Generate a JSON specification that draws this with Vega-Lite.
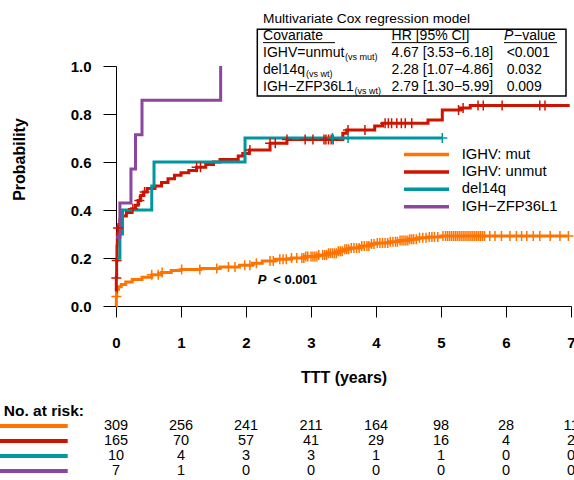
{
  "$schema": "https://vega.github.io/schema/vega-lite/v6.json",
  "width": 455,
  "height": 240,
  "autosize": {"type": "none"},
  "padding": {"left": 116, "top": 66, "right": 3, "bottom": 174},
  "background": "white",
  "config": {"font": "Liberation Sans", "view": {"stroke": null}},
  "datasets": {
    "curves": [
      {"group": "IGHV: mut", "t": 0, "p": 0},
      {"group": "IGHV: mut", "t": 0.005, "p": 0.04},
      {"group": "IGHV: mut", "t": 0.01, "p": 0.07},
      {"group": "IGHV: mut", "t": 0.04, "p": 0.08},
      {"group": "IGHV: mut", "t": 0.08, "p": 0.09},
      {"group": "IGHV: mut", "t": 0.15, "p": 0.1},
      {"group": "IGHV: mut", "t": 0.25, "p": 0.11},
      {"group": "IGHV: mut", "t": 0.4, "p": 0.12},
      {"group": "IGHV: mut", "t": 0.55, "p": 0.13},
      {"group": "IGHV: mut", "t": 0.7, "p": 0.14},
      {"group": "IGHV: mut", "t": 0.85, "p": 0.148},
      {"group": "IGHV: mut", "t": 1.0, "p": 0.152},
      {"group": "IGHV: mut", "t": 1.3, "p": 0.156},
      {"group": "IGHV: mut", "t": 1.6, "p": 0.163},
      {"group": "IGHV: mut", "t": 1.9, "p": 0.17},
      {"group": "IGHV: mut", "t": 2.1, "p": 0.178},
      {"group": "IGHV: mut", "t": 2.25, "p": 0.188},
      {"group": "IGHV: mut", "t": 2.45, "p": 0.195},
      {"group": "IGHV: mut", "t": 2.7, "p": 0.2},
      {"group": "IGHV: mut", "t": 2.9, "p": 0.206},
      {"group": "IGHV: mut", "t": 3.1, "p": 0.212},
      {"group": "IGHV: mut", "t": 3.25, "p": 0.22},
      {"group": "IGHV: mut", "t": 3.4, "p": 0.228},
      {"group": "IGHV: mut", "t": 3.5, "p": 0.236},
      {"group": "IGHV: mut", "t": 3.6, "p": 0.242},
      {"group": "IGHV: mut", "t": 3.75, "p": 0.25},
      {"group": "IGHV: mut", "t": 3.9, "p": 0.258},
      {"group": "IGHV: mut", "t": 4.0, "p": 0.263},
      {"group": "IGHV: mut", "t": 4.2, "p": 0.268},
      {"group": "IGHV: mut", "t": 4.35, "p": 0.273},
      {"group": "IGHV: mut", "t": 4.5, "p": 0.278},
      {"group": "IGHV: mut", "t": 4.65, "p": 0.284},
      {"group": "IGHV: mut", "t": 4.8, "p": 0.288},
      {"group": "IGHV: mut", "t": 5.0, "p": 0.292},
      {"group": "IGHV: mut", "t": 6.95, "p": 0.292},
      {"group": "IGHV: unmut", "t": 0, "p": 0.06},
      {"group": "IGHV: unmut", "t": 0.005, "p": 0.12},
      {"group": "IGHV: unmut", "t": 0.01, "p": 0.19},
      {"group": "IGHV: unmut", "t": 0.015, "p": 0.25},
      {"group": "IGHV: unmut", "t": 0.02, "p": 0.3},
      {"group": "IGHV: unmut", "t": 0.03, "p": 0.33},
      {"group": "IGHV: unmut", "t": 0.06, "p": 0.36},
      {"group": "IGHV: unmut", "t": 0.1, "p": 0.375},
      {"group": "IGHV: unmut", "t": 0.16, "p": 0.39},
      {"group": "IGHV: unmut", "t": 0.24, "p": 0.405},
      {"group": "IGHV: unmut", "t": 0.3, "p": 0.42},
      {"group": "IGHV: unmut", "t": 0.34, "p": 0.44},
      {"group": "IGHV: unmut", "t": 0.38, "p": 0.46},
      {"group": "IGHV: unmut", "t": 0.42, "p": 0.475},
      {"group": "IGHV: unmut", "t": 0.48, "p": 0.49},
      {"group": "IGHV: unmut", "t": 0.6, "p": 0.5},
      {"group": "IGHV: unmut", "t": 0.7, "p": 0.515},
      {"group": "IGHV: unmut", "t": 0.8, "p": 0.53},
      {"group": "IGHV: unmut", "t": 0.9, "p": 0.545},
      {"group": "IGHV: unmut", "t": 1.0, "p": 0.555},
      {"group": "IGHV: unmut", "t": 1.12, "p": 0.565},
      {"group": "IGHV: unmut", "t": 1.24, "p": 0.578},
      {"group": "IGHV: unmut", "t": 1.38, "p": 0.59},
      {"group": "IGHV: unmut", "t": 1.5, "p": 0.6},
      {"group": "IGHV: unmut", "t": 1.6, "p": 0.61},
      {"group": "IGHV: unmut", "t": 1.88, "p": 0.625},
      {"group": "IGHV: unmut", "t": 1.95, "p": 0.635},
      {"group": "IGHV: unmut", "t": 2.05, "p": 0.65},
      {"group": "IGHV: unmut", "t": 2.37, "p": 0.678},
      {"group": "IGHV: unmut", "t": 2.63, "p": 0.694},
      {"group": "IGHV: unmut", "t": 3.49, "p": 0.72},
      {"group": "IGHV: unmut", "t": 3.55, "p": 0.733},
      {"group": "IGHV: unmut", "t": 3.98, "p": 0.75},
      {"group": "IGHV: unmut", "t": 4.1, "p": 0.761},
      {"group": "IGHV: unmut", "t": 4.8, "p": 0.775},
      {"group": "IGHV: unmut", "t": 5.02, "p": 0.817},
      {"group": "IGHV: unmut", "t": 5.3, "p": 0.825},
      {"group": "IGHV: unmut", "t": 5.45, "p": 0.835},
      {"group": "IGHV: unmut", "t": 6.98, "p": 0.835},
      {"group": "del14q", "t": 0, "p": 0.2},
      {"group": "del14q", "t": 0.06, "p": 0.3},
      {"group": "del14q", "t": 0.1, "p": 0.4},
      {"group": "del14q", "t": 0.55, "p": 0.5},
      {"group": "del14q", "t": 0.585, "p": 0.6},
      {"group": "del14q", "t": 1.985, "p": 0.7},
      {"group": "del14q", "t": 5.02, "p": 0.7},
      {"group": "IGH−ZFP36L1", "t": 0, "p": 0.286},
      {"group": "IGH−ZFP36L1", "t": 0.06, "p": 0.429},
      {"group": "IGH−ZFP36L1", "t": 0.23, "p": 0.571},
      {"group": "IGH−ZFP36L1", "t": 0.3, "p": 0.714},
      {"group": "IGH−ZFP36L1", "t": 0.4, "p": 0.857},
      {"group": "IGH−ZFP36L1", "t": 1.61, "p": 1.0}
    ],
    "censor": [
      {"group": "IGHV: mut", "t": 0.005, "p": 0.04},
      {"group": "IGHV: mut", "t": 0.55, "p": 0.13},
      {"group": "IGHV: mut", "t": 0.65, "p": 0.13},
      {"group": "IGHV: mut", "t": 0.71, "p": 0.14},
      {"group": "IGHV: mut", "t": 1.01, "p": 0.152},
      {"group": "IGHV: mut", "t": 1.29, "p": 0.152},
      {"group": "IGHV: mut", "t": 1.55, "p": 0.156},
      {"group": "IGHV: mut", "t": 1.73, "p": 0.163},
      {"group": "IGHV: mut", "t": 1.83, "p": 0.163},
      {"group": "IGHV: mut", "t": 1.98, "p": 0.17},
      {"group": "IGHV: mut", "t": 2.06, "p": 0.17},
      {"group": "IGHV: mut", "t": 2.16, "p": 0.178},
      {"group": "IGHV: mut", "t": 2.37, "p": 0.188},
      {"group": "IGHV: mut", "t": 2.42, "p": 0.188},
      {"group": "IGHV: mut", "t": 2.52, "p": 0.195},
      {"group": "IGHV: mut", "t": 2.57, "p": 0.195},
      {"group": "IGHV: mut", "t": 2.62, "p": 0.195},
      {"group": "IGHV: mut", "t": 2.7, "p": 0.2},
      {"group": "IGHV: mut", "t": 2.78, "p": 0.2},
      {"group": "IGHV: mut", "t": 2.86, "p": 0.2},
      {"group": "IGHV: mut", "t": 2.89, "p": 0.2},
      {"group": "IGHV: mut", "t": 2.92, "p": 0.206},
      {"group": "IGHV: mut", "t": 2.95, "p": 0.206},
      {"group": "IGHV: mut", "t": 3.0, "p": 0.206},
      {"group": "IGHV: mut", "t": 3.03, "p": 0.206},
      {"group": "IGHV: mut", "t": 3.06, "p": 0.206},
      {"group": "IGHV: mut", "t": 3.09, "p": 0.206},
      {"group": "IGHV: mut", "t": 3.12, "p": 0.212},
      {"group": "IGHV: mut", "t": 3.18, "p": 0.212},
      {"group": "IGHV: mut", "t": 3.21, "p": 0.212},
      {"group": "IGHV: mut", "t": 3.24, "p": 0.212},
      {"group": "IGHV: mut", "t": 3.27, "p": 0.22},
      {"group": "IGHV: mut", "t": 3.3, "p": 0.22},
      {"group": "IGHV: mut", "t": 3.33, "p": 0.22},
      {"group": "IGHV: mut", "t": 3.36, "p": 0.22},
      {"group": "IGHV: mut", "t": 3.39, "p": 0.22},
      {"group": "IGHV: mut", "t": 3.42, "p": 0.228},
      {"group": "IGHV: mut", "t": 3.45, "p": 0.228},
      {"group": "IGHV: mut", "t": 3.48, "p": 0.228},
      {"group": "IGHV: mut", "t": 3.52, "p": 0.236},
      {"group": "IGHV: mut", "t": 3.55, "p": 0.236},
      {"group": "IGHV: mut", "t": 3.58, "p": 0.236},
      {"group": "IGHV: mut", "t": 3.62, "p": 0.242},
      {"group": "IGHV: mut", "t": 3.66, "p": 0.242},
      {"group": "IGHV: mut", "t": 3.7, "p": 0.242},
      {"group": "IGHV: mut", "t": 3.74, "p": 0.242},
      {"group": "IGHV: mut", "t": 3.78, "p": 0.25},
      {"group": "IGHV: mut", "t": 3.82, "p": 0.25},
      {"group": "IGHV: mut", "t": 3.86, "p": 0.25},
      {"group": "IGHV: mut", "t": 3.89, "p": 0.25},
      {"group": "IGHV: mut", "t": 3.93, "p": 0.258},
      {"group": "IGHV: mut", "t": 3.97, "p": 0.258},
      {"group": "IGHV: mut", "t": 4.02, "p": 0.263},
      {"group": "IGHV: mut", "t": 4.06, "p": 0.263},
      {"group": "IGHV: mut", "t": 4.1, "p": 0.263},
      {"group": "IGHV: mut", "t": 4.14, "p": 0.263},
      {"group": "IGHV: mut", "t": 4.18, "p": 0.263},
      {"group": "IGHV: mut", "t": 4.22, "p": 0.268},
      {"group": "IGHV: mut", "t": 4.26, "p": 0.268},
      {"group": "IGHV: mut", "t": 4.3, "p": 0.268},
      {"group": "IGHV: mut", "t": 4.33, "p": 0.268},
      {"group": "IGHV: mut", "t": 4.37, "p": 0.273},
      {"group": "IGHV: mut", "t": 4.4, "p": 0.273},
      {"group": "IGHV: mut", "t": 4.43, "p": 0.273},
      {"group": "IGHV: mut", "t": 4.46, "p": 0.273},
      {"group": "IGHV: mut", "t": 4.49, "p": 0.273},
      {"group": "IGHV: mut", "t": 4.52, "p": 0.278},
      {"group": "IGHV: mut", "t": 4.55, "p": 0.278},
      {"group": "IGHV: mut", "t": 4.58, "p": 0.278},
      {"group": "IGHV: mut", "t": 4.62, "p": 0.278},
      {"group": "IGHV: mut", "t": 4.67, "p": 0.284},
      {"group": "IGHV: mut", "t": 4.72, "p": 0.284},
      {"group": "IGHV: mut", "t": 4.77, "p": 0.284},
      {"group": "IGHV: mut", "t": 4.82, "p": 0.288},
      {"group": "IGHV: mut", "t": 4.86, "p": 0.288},
      {"group": "IGHV: mut", "t": 4.9, "p": 0.288},
      {"group": "IGHV: mut", "t": 4.95, "p": 0.288},
      {"group": "IGHV: mut", "t": 5.03, "p": 0.292},
      {"group": "IGHV: mut", "t": 5.07, "p": 0.292},
      {"group": "IGHV: mut", "t": 5.1, "p": 0.292},
      {"group": "IGHV: mut", "t": 5.13, "p": 0.292},
      {"group": "IGHV: mut", "t": 5.16, "p": 0.292},
      {"group": "IGHV: mut", "t": 5.19, "p": 0.292},
      {"group": "IGHV: mut", "t": 5.22, "p": 0.292},
      {"group": "IGHV: mut", "t": 5.25, "p": 0.292},
      {"group": "IGHV: mut", "t": 5.28, "p": 0.292},
      {"group": "IGHV: mut", "t": 5.31, "p": 0.292},
      {"group": "IGHV: mut", "t": 5.34, "p": 0.292},
      {"group": "IGHV: mut", "t": 5.37, "p": 0.292},
      {"group": "IGHV: mut", "t": 5.4, "p": 0.292},
      {"group": "IGHV: mut", "t": 5.43, "p": 0.292},
      {"group": "IGHV: mut", "t": 5.46, "p": 0.292},
      {"group": "IGHV: mut", "t": 5.49, "p": 0.292},
      {"group": "IGHV: mut", "t": 5.52, "p": 0.292},
      {"group": "IGHV: mut", "t": 5.55, "p": 0.292},
      {"group": "IGHV: mut", "t": 5.58, "p": 0.292},
      {"group": "IGHV: mut", "t": 5.61, "p": 0.292},
      {"group": "IGHV: mut", "t": 5.64, "p": 0.292},
      {"group": "IGHV: mut", "t": 5.67, "p": 0.292},
      {"group": "IGHV: mut", "t": 5.75, "p": 0.292},
      {"group": "IGHV: mut", "t": 5.83, "p": 0.292},
      {"group": "IGHV: mut", "t": 5.93, "p": 0.292},
      {"group": "IGHV: mut", "t": 6.06, "p": 0.292},
      {"group": "IGHV: mut", "t": 6.16, "p": 0.292},
      {"group": "IGHV: mut", "t": 6.24, "p": 0.292},
      {"group": "IGHV: mut", "t": 6.32, "p": 0.292},
      {"group": "IGHV: mut", "t": 6.42, "p": 0.292},
      {"group": "IGHV: mut", "t": 6.52, "p": 0.292},
      {"group": "IGHV: mut", "t": 6.68, "p": 0.292},
      {"group": "IGHV: mut", "t": 6.83, "p": 0.292},
      {"group": "IGHV: mut", "t": 6.96, "p": 0.292},
      {"group": "IGHV: unmut", "t": 0.005, "p": 0.117},
      {"group": "IGHV: unmut", "t": 0.01, "p": 0.19},
      {"group": "IGHV: unmut", "t": 0.03, "p": 0.325},
      {"group": "IGHV: unmut", "t": 0.26, "p": 0.405},
      {"group": "IGHV: unmut", "t": 0.36, "p": 0.44},
      {"group": "IGHV: unmut", "t": 0.44, "p": 0.475},
      {"group": "IGHV: unmut", "t": 1.24, "p": 0.578},
      {"group": "IGHV: unmut", "t": 1.3, "p": 0.578},
      {"group": "IGHV: unmut", "t": 2.06, "p": 0.65},
      {"group": "IGHV: unmut", "t": 2.37, "p": 0.678},
      {"group": "IGHV: unmut", "t": 2.45, "p": 0.678},
      {"group": "IGHV: unmut", "t": 2.63, "p": 0.694},
      {"group": "IGHV: unmut", "t": 2.91, "p": 0.694},
      {"group": "IGHV: unmut", "t": 3.03, "p": 0.694},
      {"group": "IGHV: unmut", "t": 3.2, "p": 0.694},
      {"group": "IGHV: unmut", "t": 3.23, "p": 0.694},
      {"group": "IGHV: unmut", "t": 3.27, "p": 0.694},
      {"group": "IGHV: unmut", "t": 3.31, "p": 0.694},
      {"group": "IGHV: unmut", "t": 3.34, "p": 0.694},
      {"group": "IGHV: unmut", "t": 3.57, "p": 0.733},
      {"group": "IGHV: unmut", "t": 3.83, "p": 0.733},
      {"group": "IGHV: unmut", "t": 4.14, "p": 0.761},
      {"group": "IGHV: unmut", "t": 4.19, "p": 0.761},
      {"group": "IGHV: unmut", "t": 4.24, "p": 0.761},
      {"group": "IGHV: unmut", "t": 4.32, "p": 0.761},
      {"group": "IGHV: unmut", "t": 4.39, "p": 0.761},
      {"group": "IGHV: unmut", "t": 4.45, "p": 0.761},
      {"group": "IGHV: unmut", "t": 4.55, "p": 0.761},
      {"group": "IGHV: unmut", "t": 5.27, "p": 0.817},
      {"group": "IGHV: unmut", "t": 5.34, "p": 0.825},
      {"group": "IGHV: unmut", "t": 5.57, "p": 0.835},
      {"group": "IGHV: unmut", "t": 5.65, "p": 0.835},
      {"group": "IGHV: unmut", "t": 5.94, "p": 0.835},
      {"group": "IGHV: unmut", "t": 6.52, "p": 0.835},
      {"group": "IGHV: unmut", "t": 6.6, "p": 0.835},
      {"group": "del14q", "t": 3.33, "p": 0.7},
      {"group": "del14q", "t": 3.57, "p": 0.7},
      {"group": "del14q", "t": 5.02, "p": 0.7}
    ],
    "groups": [
      {"group": "IGHV: mut"},
      {"group": "IGHV: unmut"},
      {"group": "del14q"},
      {"group": "IGH−ZFP36L1"}
    ],
    "risk": [
      {"group": "IGHV: mut", "time": 0, "n": 309},
      {"group": "IGHV: mut", "time": 1, "n": 256},
      {"group": "IGHV: mut", "time": 2, "n": 241},
      {"group": "IGHV: mut", "time": 3, "n": 211},
      {"group": "IGHV: mut", "time": 4, "n": 164},
      {"group": "IGHV: mut", "time": 5, "n": 98},
      {"group": "IGHV: mut", "time": 6, "n": 28},
      {"group": "IGHV: mut", "time": 7, "n": 11},
      {"group": "IGHV: unmut", "time": 0, "n": 165},
      {"group": "IGHV: unmut", "time": 1, "n": 70},
      {"group": "IGHV: unmut", "time": 2, "n": 57},
      {"group": "IGHV: unmut", "time": 3, "n": 41},
      {"group": "IGHV: unmut", "time": 4, "n": 29},
      {"group": "IGHV: unmut", "time": 5, "n": 16},
      {"group": "IGHV: unmut", "time": 6, "n": 4},
      {"group": "IGHV: unmut", "time": 7, "n": 2},
      {"group": "del14q", "time": 0, "n": 10},
      {"group": "del14q", "time": 1, "n": 4},
      {"group": "del14q", "time": 2, "n": 3},
      {"group": "del14q", "time": 3, "n": 3},
      {"group": "del14q", "time": 4, "n": 1},
      {"group": "del14q", "time": 5, "n": 1},
      {"group": "del14q", "time": 6, "n": 0},
      {"group": "del14q", "time": 7, "n": 0},
      {"group": "IGH−ZFP36L1", "time": 0, "n": 7},
      {"group": "IGH−ZFP36L1", "time": 1, "n": 1},
      {"group": "IGH−ZFP36L1", "time": 2, "n": 0},
      {"group": "IGH−ZFP36L1", "time": 3, "n": 0},
      {"group": "IGH−ZFP36L1", "time": 4, "n": 0},
      {"group": "IGH−ZFP36L1", "time": 5, "n": 0},
      {"group": "IGH−ZFP36L1", "time": 6, "n": 0},
      {"group": "IGH−ZFP36L1", "time": 7, "n": 0}
    ],
    "cox": [
      {"row": 1, "covariate": "IGHV=unmut", "sub": "(vs mut)", "hr": "4.67 [3.53−6.18]", "pval": "<0.001"},
      {"row": 2, "covariate": "del14q", "sub": "(vs wt)", "hr": "2.28 [1.07−4.86]", "pval": "0.032"},
      {"row": 3, "covariate": "IGH−ZFP36L1", "sub": "(vs wt)", "hr": "2.79 [1.30−5.99]", "pval": "0.009"}
    ]
  },
  "layer": [
    {
      "layer": [
        {
          "data": {"name": "curves"},
          "mark": {"type": "line", "interpolate": "step-after", "strokeWidth": 3, "clip": false},
          "encoding": {
            "x": {
              "field": "t", "type": "quantitative",
              "scale": {"domain": [0, 7], "nice": false, "zero": false},
              "axis": {
                "title": "TTT (years)", "values": [0, 1, 2, 3, 4, 5, 6, 7], "format": "d",
                "grid": false, "domainColor": "black", "tickColor": "black", "tickSize": 11,
                "labelFontSize": 15, "labelFontWeight": "bold", "labelColor": "black",
                "labelPadding": 25, "labelBaseline": "middle", "labelFlush": false, "labelOverlap": false,
                "titleFontSize": 16, "titleFontWeight": "bold", "titleColor": "black",
                "titleY": 71, "titleBaseline": "middle"
              }
            },
            "y": {
              "field": "p", "type": "quantitative",
              "scale": {"domain": [0, 1], "nice": false, "zero": false},
              "axis": {
                "title": "Probability", "values": [0, 0.2, 0.4, 0.6, 0.8, 1], "format": ".1f",
                "grid": false, "domainColor": "black", "tickColor": "black", "tickSize": 13,
                "labelFontSize": 15, "labelFontWeight": "bold", "labelColor": "black",
                "labelPadding": 12,
                "titleFontSize": 16, "titleFontWeight": "bold", "titleColor": "black",
                "titleX": -97, "titleY": 93, "titleAlign": "center", "titleBaseline": "middle"
              }
            },
            "color": {
              "field": "group", "type": "nominal",
              "scale": {
                "domain": ["IGHV: mut", "IGHV: unmut", "del14q", "IGH−ZFP36L1"],
                "range": ["#FF7300", "#CC1400", "#0096A0", "#8C46A0"]
              },
              "legend": null
            }
          }
        },
        {
          "data": {"name": "censor"},
          "mark": {"type": "point", "shape": "M0,-1V1M-1,0H1", "filled": false, "size": 100, "strokeWidth": 1.5, "opacity": 1, "clip": false},
          "encoding": {
            "x": {"field": "t", "type": "quantitative"},
            "y": {"field": "p", "type": "quantitative"},
            "color": {"field": "group", "type": "nominal", "legend": null}
          }
        },
        {
          "data": {"values": [{}]},
          "layer": [
            {
              "mark": {"type": "text", "text": "P", "fontStyle": "italic", "fontWeight": "bold", "fontSize": 13, "align": "left", "baseline": "middle", "color": "black"},
              "encoding": {"x": {"datum": 2.18, "type": "quantitative"}, "y": {"datum": 0.108, "type": "quantitative"}}
            },
            {
              "mark": {"type": "text", "text": "< 0.001", "fontWeight": "bold", "fontSize": 13, "align": "left", "baseline": "middle", "color": "black"},
              "encoding": {"x": {"datum": 2.42, "type": "quantitative"}, "y": {"datum": 0.108, "type": "quantitative"}}
            },
            {
              "mark": {"type": "text", "text": "No. at risk:", "fontWeight": "bold", "fontSize": 15.5, "align": "left", "baseline": "middle", "color": "black"},
              "encoding": {"x": {"datum": -1.726, "type": "quantitative"}, "y": {"datum": -0.4375, "type": "quantitative"}}
            }
          ]
        }
      ]
    },
    {
      "data": {"name": "cox"},
      "layer": [
        {
          "transform": [{"filter": "datum.row == 1"}],
          "mark": {"type": "rect", "fill": "white", "stroke": "black", "strokeWidth": 1.5},
          "encoding": {
            "x": {"datum": 2.174, "type": "quantitative", "scale": {"domain": [0, 7], "nice": false, "zero": false}, "axis": null},
            "x2": {"datum": 6.923},
            "y": {"datum": -0.394, "type": "quantitative", "scale": {"domain": [0, 3], "range": [-30, 21], "nice": false, "zero": false}, "axis": null},
            "y2": {"datum": 3.53}
          }
        },
        {
          "transform": [{"filter": "datum.row == 1"}],
          "mark": {"type": "text", "text": "Multivariate Cox regression model", "fontSize": 13.7, "align": "left", "baseline": "middle", "color": "black"},
          "encoding": {"x": {"datum": 2.262, "type": "quantitative", "axis": null}, "y": {"datum": -1, "type": "quantitative", "axis": null}}
        },
        {
          "transform": [{"filter": "datum.row == 1"}],
          "mark": {"type": "text", "text": "Covariate", "fontSize": 14, "align": "left", "baseline": "middle", "color": "black"},
          "encoding": {"x": {"datum": 2.262, "type": "quantitative", "axis": null}, "y": {"datum": 0, "type": "quantitative", "axis": null}}
        },
        {
          "transform": [{"filter": "datum.row == 1"}],
          "mark": {"type": "text", "text": "HR [95% CI]", "fontSize": 14, "align": "left", "baseline": "middle", "color": "black"},
          "encoding": {"x": {"datum": 4.24, "type": "quantitative", "axis": null}, "y": {"datum": 0, "type": "quantitative", "axis": null}}
        },
        {
          "transform": [{"filter": "datum.row == 1"}],
          "mark": {"type": "text", "text": "P", "fontStyle": "italic", "fontSize": 14, "align": "left", "baseline": "middle", "color": "black"},
          "encoding": {"x": {"datum": 5.969, "type": "quantitative", "axis": null}, "y": {"datum": 0, "type": "quantitative", "axis": null}}
        },
        {
          "transform": [{"filter": "datum.row == 1"}],
          "mark": {"type": "text", "text": "−value", "fontSize": 14, "align": "left", "baseline": "middle", "color": "black", "dx": 10},
          "encoding": {"x": {"datum": 5.969, "type": "quantitative", "axis": null}, "y": {"datum": 0, "type": "quantitative", "axis": null}}
        },
        {
          "transform": [{"filter": "datum.row == 1"}],
          "mark": {"type": "rule", "stroke": "black", "strokeWidth": 1},
          "encoding": {"x": {"datum": 2.262, "type": "quantitative", "axis": null}, "x2": {"datum": 3.37}, "y": {"datum": 0.39, "type": "quantitative", "axis": null}}
        },
        {
          "transform": [{"filter": "datum.row == 1"}],
          "mark": {"type": "rule", "stroke": "black", "strokeWidth": 1},
          "encoding": {"x": {"datum": 4.24, "type": "quantitative", "axis": null}, "x2": {"datum": 5.395}, "y": {"datum": 0.39, "type": "quantitative", "axis": null}}
        },
        {
          "transform": [{"filter": "datum.row == 1"}],
          "mark": {"type": "rule", "stroke": "black", "strokeWidth": 1},
          "encoding": {"x": {"datum": 5.969, "type": "quantitative", "axis": null}, "x2": {"datum": 6.785}, "y": {"datum": 0.39, "type": "quantitative", "axis": null}}
        },
        {
          "mark": {"type": "text", "fontSize": 14, "align": "left", "baseline": "middle", "color": "black"},
          "encoding": {"x": {"datum": 2.262, "type": "quantitative", "axis": null}, "y": {"field": "row", "type": "quantitative", "axis": null}, "text": {"field": "covariate"}}
        },
        {
          "transform": [{"filter": "datum.row == 1"}],
          "mark": {"type": "text", "fontSize": 9, "align": "left", "baseline": "middle", "color": "black", "dx": 82, "dy": 4},
          "encoding": {"x": {"datum": 2.262, "type": "quantitative", "axis": null}, "y": {"field": "row", "type": "quantitative", "axis": null}, "text": {"field": "sub"}}
        },
        {
          "transform": [{"filter": "datum.row == 2"}],
          "mark": {"type": "text", "fontSize": 9, "align": "left", "baseline": "middle", "color": "black", "dx": 43, "dy": 4},
          "encoding": {"x": {"datum": 2.262, "type": "quantitative", "axis": null}, "y": {"field": "row", "type": "quantitative", "axis": null}, "text": {"field": "sub"}}
        },
        {
          "transform": [{"filter": "datum.row == 3"}],
          "mark": {"type": "text", "fontSize": 9, "align": "left", "baseline": "middle", "color": "black", "dx": 91.5, "dy": 4},
          "encoding": {"x": {"datum": 2.262, "type": "quantitative", "axis": null}, "y": {"field": "row", "type": "quantitative", "axis": null}, "text": {"field": "sub"}}
        },
        {
          "mark": {"type": "text", "fontSize": 14, "align": "left", "baseline": "middle", "color": "black"},
          "encoding": {"x": {"datum": 4.24, "type": "quantitative", "axis": null}, "y": {"field": "row", "type": "quantitative", "axis": null}, "text": {"field": "hr"}}
        },
        {
          "mark": {"type": "text", "fontSize": 14, "align": "left", "baseline": "middle", "color": "black"},
          "encoding": {"x": {"datum": 6.01, "type": "quantitative", "axis": null}, "y": {"field": "row", "type": "quantitative", "axis": null}, "text": {"field": "pval"}}
        }
      ]
    },
    {
      "data": {"name": "groups"},
      "layer": [
        {
          "mark": {"type": "rule", "strokeWidth": 3.5},
          "encoding": {
            "x": {"datum": 4.431, "type": "quantitative", "scale": {"domain": [0, 7], "nice": false, "zero": false}, "axis": null},
            "x2": {"datum": 5.123},
            "y": {"field": "group", "type": "nominal", "scale": {"type": "point", "domain": ["IGHV: mut", "IGHV: unmut", "del14q", "IGH−ZFP36L1"], "range": [88.5, 140.7], "padding": 0}, "axis": null},
            "color": {"field": "group", "type": "nominal", "legend": null}
          }
        },
        {
          "mark": {"type": "text", "fontSize": 14.8, "align": "left", "baseline": "middle", "color": "black"},
          "encoding": {
            "x": {"datum": 5.318, "type": "quantitative", "axis": null},
            "y": {"field": "group", "type": "nominal", "axis": null},
            "text": {"field": "group"}
          }
        }
      ]
    },
    {
      "layer": [
        {
          "data": {"name": "risk"},
          "mark": {"type": "text", "fontSize": 14.5, "align": "center", "baseline": "middle", "color": "black"},
          "encoding": {
            "x": {"field": "time", "type": "quantitative", "scale": {"domain": [0, 7], "nice": false, "zero": false}, "axis": null},
            "y": {"field": "group", "type": "nominal", "scale": {"type": "point", "domain": ["IGHV: mut", "IGHV: unmut", "del14q", "IGH−ZFP36L1"], "range": [360, 405], "padding": 0}, "axis": null},
            "text": {"field": "n"}
          }
        },
        {
          "data": {"name": "groups"},
          "mark": {"type": "rule", "strokeWidth": 4},
          "encoding": {
            "x": {"datum": -1.785, "type": "quantitative", "axis": null},
            "x2": {"datum": -0.743},
            "y": {"field": "group", "type": "nominal", "axis": null},
            "color": {"field": "group", "type": "nominal", "legend": null}
          }
        }
      ]
    }
  ],
  "resolve": {"scale": {"x": "independent", "y": "independent"}}
}
